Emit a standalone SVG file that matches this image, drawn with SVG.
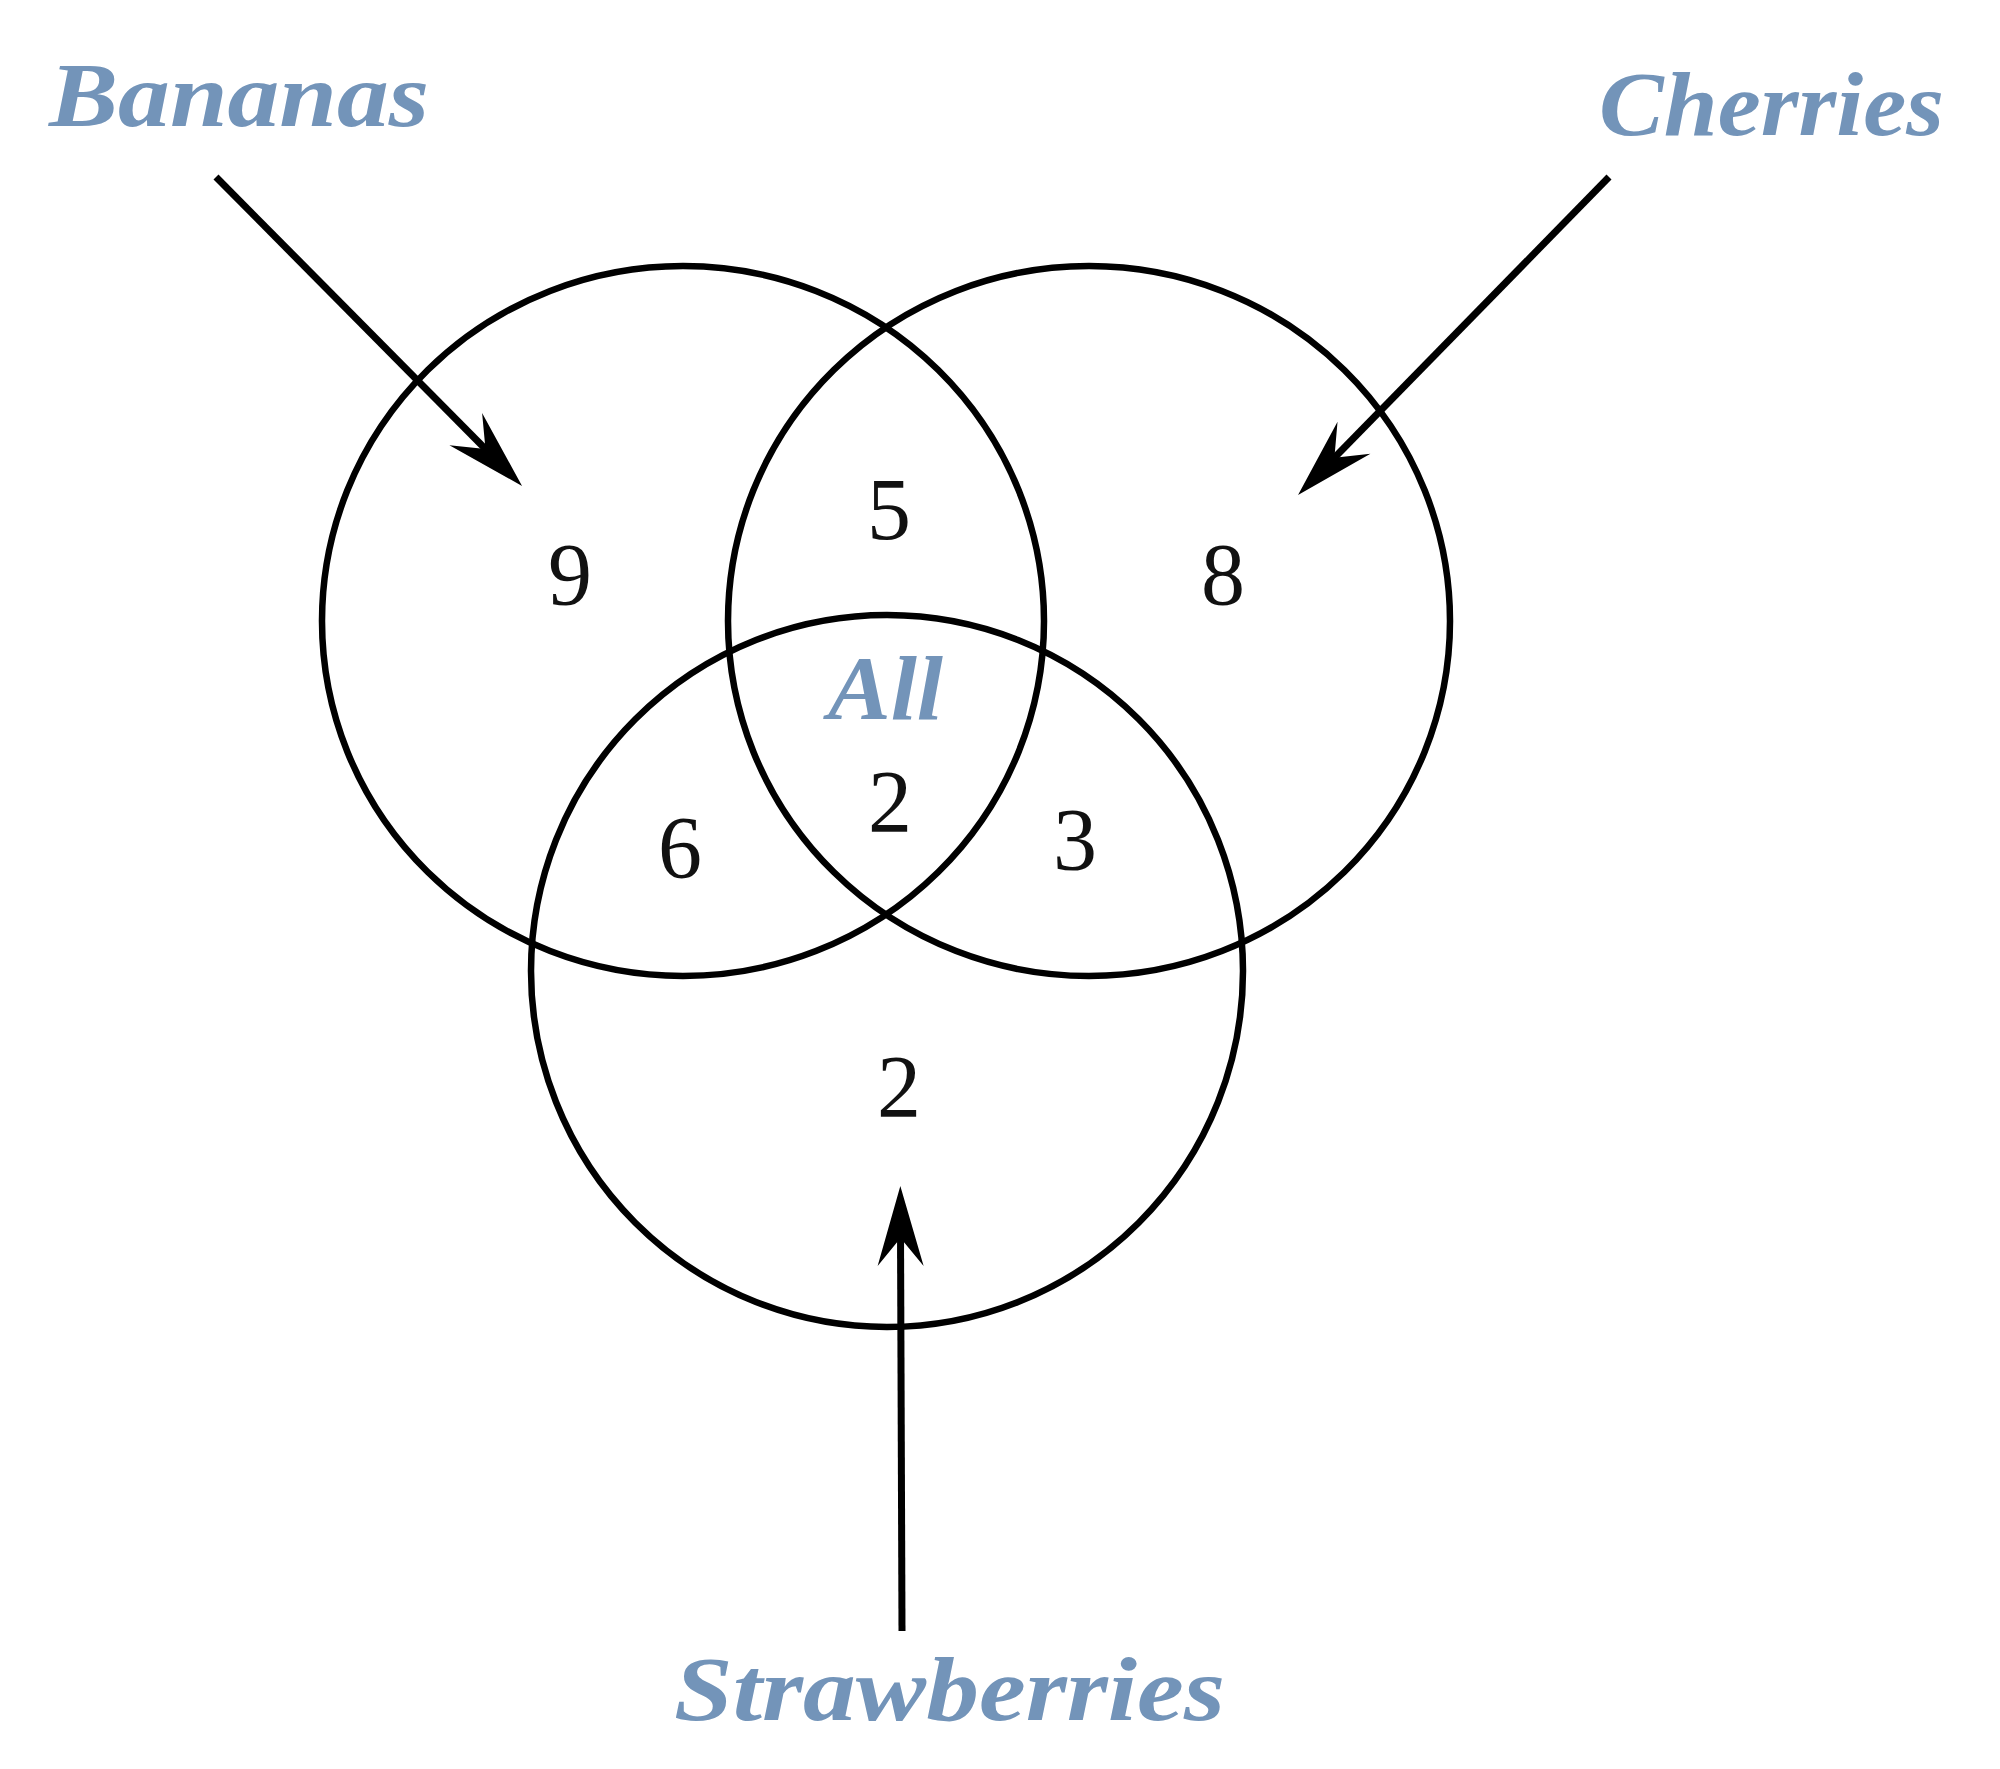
<svg xmlns="http://www.w3.org/2000/svg" width="2000" height="1769" viewBox="0 0 2000 1769">
<style>
.set{fill:none;stroke:#000;stroke-width:6.5}
.lbl{font-family:"Liberation Serif",serif;font-weight:bold;font-style:italic;font-size:92px;fill:#7394b9}
.num{font-family:"Liberation Serif",serif;font-size:88px;fill:#111;text-anchor:middle}
.arr{stroke:#000;stroke-width:7;fill:none;marker-end:url(#head)}
</style>
<defs>
<marker id="head" viewBox="-85 -30 95 60" markerWidth="95" markerHeight="60" refX="-45" refY="0" orient="auto" markerUnits="userSpaceOnUse">
<path d="M0,0 L-80,-23 L-52,0 L-80,23 Z" fill="#000"/>
</marker>
</defs>
<rect width="2000" height="1769" fill="#fff"/>
<g id="bananas">
<ellipse class="set" cx="683" cy="621" rx="361" ry="355"/>
<text class="lbl" x="49" y="126" textLength="380" lengthAdjust="spacingAndGlyphs">Bananas</text>
</g>
<g id="cherries">
<ellipse class="set" cx="1089" cy="621" rx="361" ry="355"/>
<text class="lbl" x="1599" y="135" textLength="345" lengthAdjust="spacingAndGlyphs">Cherries</text>
</g>
<g id="strawberries">
<ellipse class="set" cx="887" cy="971" rx="356" ry="356"/>
<text class="lbl" x="674" y="1720" textLength="551" lengthAdjust="spacingAndGlyphs">Strawberries</text>
</g>
<g id="regions">
<text class="num" x="570" y="604">9</text>
<text class="num" x="889" y="539">5</text>
<text class="num" x="1223" y="604">8</text>
<text class="lbl" x="828" y="719" textLength="115" lengthAdjust="spacingAndGlyphs">All</text>
<text class="num" x="890" y="831">2</text>
<text class="num" x="680" y="877">6</text>
<text class="num" x="1075" y="869">3</text>
<text class="num" x="899" y="1116">2</text>
</g>
<g id="connectors">
<line class="arr" x1="216" y1="177" x2="490.4" y2="454"/>
<line class="arr" x1="1609" y1="177" x2="1329.5" y2="462.8"/>
<line class="arr" x1="902" y1="1631" x2="900.5" y2="1231"/>
</g>
</svg>
